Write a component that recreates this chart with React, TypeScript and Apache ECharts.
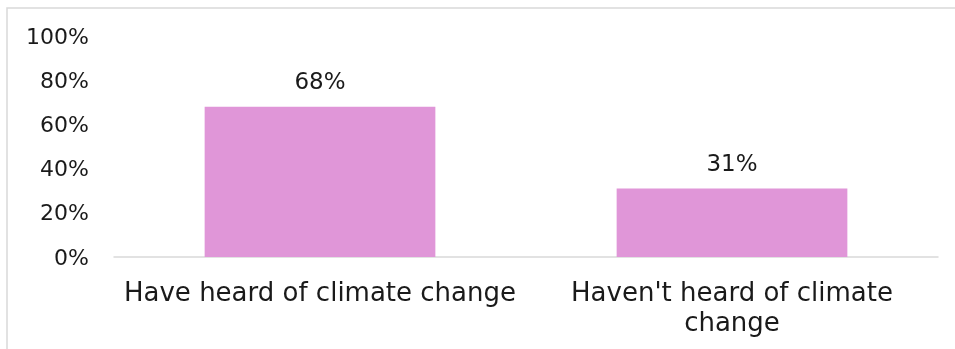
import React, { useEffect, useRef } from "react";
import * as echarts from "echarts";

const categories = ["Have heard of climate change", "Haven't heard of climate\nchange"];
const values = [68, 31];
const yTicks = [0, 20, 40, 60, 80, 100];

const FONT = "DejaVu Sans";

export default function App() {
  const ref = useRef<HTMLDivElement>(null);
  useEffect(() => {
    if (!ref.current) return;
    const chart = echarts.init(ref.current, undefined, { renderer: "svg" });
    chart.setOption({
      animation: false,
      graphic: [
        {
          type: "rect",
          shape: { x: 7, y: 8, width: 1000, height: 400 },
          style: { fill: "none", stroke: "#d9d9d9", lineWidth: 1.5 },
          silent: true,
        },
      ],
      grid: { left: 114, right: 17, top: 36, bottom: 92, containLabel: false },
      xAxis: {
        type: "category",
        data: categories,
        axisLine: { show: true, lineStyle: { color: "#d9d9d9", width: 1.5 } },
        axisTick: { show: false },
        axisLabel: {
          fontFamily: FONT,
          fontSize: 26,
          color: "#1a1a1a",
          margin: 20,
          lineHeight: 30,
          interval: 0,
        },
      },
      yAxis: {
        type: "value",
        min: yTicks[0],
        max: yTicks[yTicks.length - 1],
        interval: 20,
        axisLine: { show: false },
        axisTick: { show: false },
        splitLine: { show: false },
        axisLabel: {
          fontFamily: FONT,
          fontSize: 22,
          color: "#1a1a1a",
          margin: 25,
          formatter: "{value}%",
        },
      },
      series: [
        {
          type: "bar",
          data: values,
          barWidth: "56%",
          itemStyle: { color: "#E096D8" },
          label: {
            show: true,
            position: "top",
            distance: 14,
            formatter: "{c}%",
            fontFamily: FONT,
            fontSize: 23,
            color: "#1a1a1a",
          },
        },
      ],
    });
    return () => chart.dispose();
  }, []);
  return (
    <div
      ref={ref}
      style={{ position: "fixed", left: 0, top: 0, width: 955, height: 349 }}
    />
  );
}
